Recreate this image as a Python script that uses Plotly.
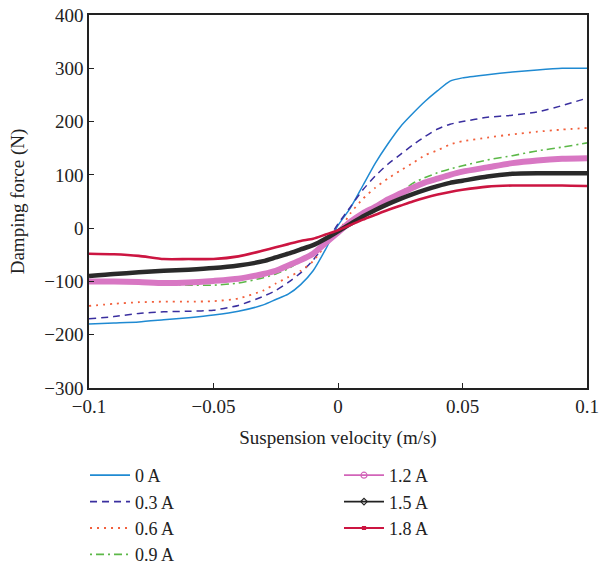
import plotly.graph_objects as go

velocity = [-0.1, -0.09, -0.08, -0.07, -0.06, -0.05, -0.04, -0.03, -0.025, -0.02,
            -0.015, -0.01, -0.005, 0.0, 0.005, 0.01, 0.015, 0.02, 0.025, 0.03,
            0.035, 0.04, 0.045, 0.05, 0.06, 0.07, 0.08, 0.09, 0.1]

force_0A = [-180, -178, -176, -172, -168, -163, -156, -144, -134, -124,
            -106, -80, -40, 5, 38, 80, 122, 158, 190, 215,
            238, 258, 276, 282, 288, 293, 297, 300, 300]
force_03A = [-170, -166, -160, -157, -156, -154, -145, -128, -117, -102,
             -84, -60, -28, 8, 40, 72, 98, 120, 138, 156,
             172, 186, 195, 200, 208, 212, 218, 230, 244]
force_06A = [-146, -142, -139, -138, -138, -137, -132, -117, -104, -92,
             -80, -62, -32, -8, 28, 55, 76, 93, 108, 122,
             137, 146, 157, 163, 170, 176, 181, 185, 188]
force_09A = [-100, -100, -101, -104, -107, -107, -103, -93, -86, -76,
             -62, -45, -25, -6, 14, 28, 40, 52, 66, 84,
             95, 104, 111, 117, 128, 136, 145, 152, 160]
force_12A = [-100, -100, -101, -103, -102, -99, -95, -86, -80, -70,
             -60, -48, -28, -8, 12, 28, 40, 54, 65, 76,
             86, 93, 100, 106, 114, 122, 127, 130, 131]
force_15A = [-90, -86, -83, -80, -78, -75, -70, -62, -55, -48,
             -40, -32, -20, -6, 8, 22, 34, 45, 55, 64,
             72, 79, 85, 89, 97, 102, 103, 103, 103]
force_18A = [-48, -49, -52, -58, -58, -58, -53, -42, -36, -30,
             -24, -20, -12, -4, 6, 16, 25, 34, 42, 50,
             57, 63, 68, 72, 78, 80, 80, 80, 79]

labels = ["0 A", "0.3 A", "0.6 A", "0.9 A", "1.2 A", "1.5 A", "1.8 A"]
series = [force_0A, force_03A, force_06A, force_09A, force_12A, force_15A, force_18A]

x_ticks = [-0.1, -0.05, 0, 0.05, 0.1]
x_ticktext = ["\u22120.1", "\u22120.05", "0", "0.05", "0.1"]
y_ticks = [-300, -200, -100, 0, 100, 200, 300, 400]
y_ticktext = ["\u2212300", "\u2212200", "\u2212100", "0", "100", "200", "300", "400"]

colors = ["#1f8ad2", "#3a2f9f", "#f2603c", "#5cb848", "#d264b9", "#222222", "#cc1541"]
band_colors = ["#1f8ad2", "#3a2f9f", "#f2603c", "#5cb848", "#d877c3", "#2a2a2a", "#cc1541"]
dashes = ["solid", "7px,5px", "2px,5px", "2px,4px,8px,4px", "solid", "solid", "solid"]
plot_widths = [1.5, 1.5, 1.8, 1.6, 6, 4.5, 2.6]
legend_markers = [None, None, None, None, "circle-open", "diamond-open", "square"]
legend_marker_sizes = [5, 5, 5, 5, 6, 5, 3]

FONT = "Liberation Serif"
fig = go.Figure()

for i, (lab, ys) in enumerate(zip(labels, series)):
    fig.add_trace(go.Scatter(
        x=velocity, y=ys, mode="lines", showlegend=False,
        line=dict(color=band_colors[i], width=plot_widths[i], dash=dashes[i],
                  shape="spline", smoothing=0.6),
    ))

for i, lab in enumerate(labels):
    mode = "lines+markers" if legend_markers[i] else "lines"
    fig.add_trace(go.Scatter(
        x=[None], y=[None], mode=mode, name=lab,
        legend="legend" if i < 4 else "legend2",
        line=dict(color=colors[i], width=1.8, dash=dashes[i]),
        marker=dict(symbol=legend_markers[i] or "circle", size=legend_marker_sizes[i],
                    color=colors[i], line=dict(color=colors[i], width=1.2)),
    ))

axis_common = dict(showline=True, mirror=True, linecolor="#222222", linewidth=1.5,
                   ticks="inside", ticklen=5, tickcolor="#222222", tickwidth=1.2,
                   showgrid=False, zeroline=False, automargin=False,
                   ticklabeloverflow="allow",
                   tickfont=dict(family=FONT, size=19, color="#222222"))

legend_common = dict(yanchor="top", xanchor="left", y=-0.185,
                     traceorder="normal", itemwidth=40,
                     font=dict(family=FONT, size=18, color="#222222"),
                     bgcolor="rgba(0,0,0,0)")

fig.update_layout(
    width=600, height=567,
    margin=dict(l=89, r=13, t=15, b=179, autoexpand=False),
    paper_bgcolor="white", plot_bgcolor="white",
    font=dict(family=FONT, size=19, color="#222222"),
    xaxis=dict(range=[-0.1, 0.1], tickvals=x_ticks, ticktext=x_ticktext,
               title=dict(text="Suspension velocity (m/s)", standoff=15,
                          font=dict(family=FONT, size=19, color="#222222")),
               **axis_common),
    yaxis=dict(range=[-300, 400], tickvals=y_ticks, ticktext=y_ticktext,
               title=dict(text="Damping force (N)", standoff=15,
                          font=dict(family=FONT, size=19, color="#222222")),
               **axis_common),
    legend=dict(x=-0.008, **legend_common),
    legend2=dict(x=0.502, **legend_common),
)

# Remove the default 8px page margin so the 600x567 figure fills the window exactly.
fig.write_html("out.html",
               config={"displayModeBar": False},
               post_script="document.body.style.margin='0';document.body.style.overflow='hidden';")
